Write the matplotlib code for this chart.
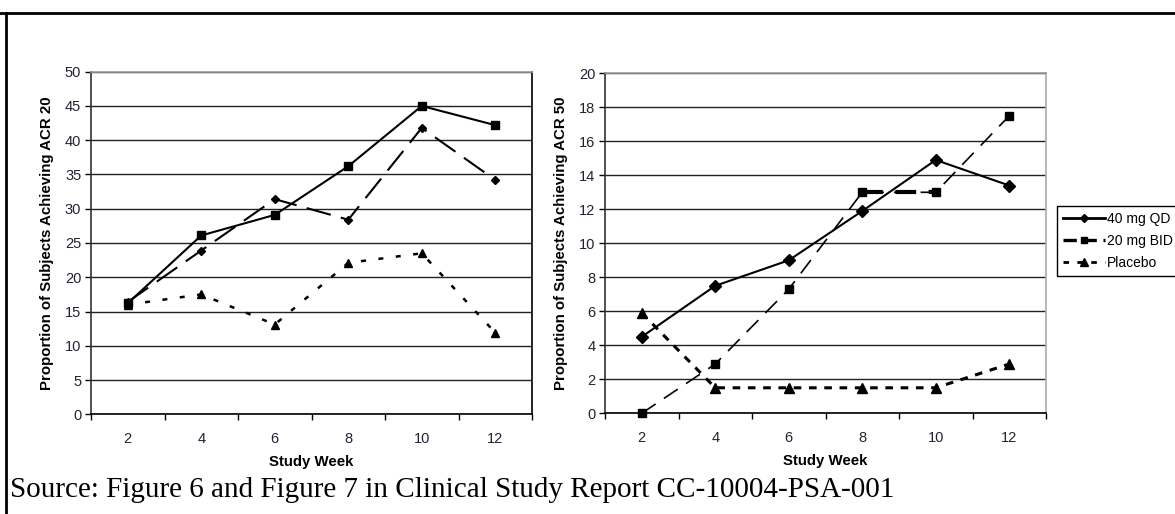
import matplotlib
matplotlib.use("Agg")
import matplotlib.pyplot as plt
from matplotlib.lines import Line2D

weeks = ["2", "4", "6", "8", "10", "12"]

# ACR 20 (left panel)
acr20_solid = [16.2, 26.1, 29.1, 36.2, 45.0, 42.2]
acr20_dashed = [16.4, 23.9, 31.4, 28.4, 41.8, 34.2]
acr20_placebo = [16.0, 17.5, 13.1, 22.1, 23.5, 11.9]

# ACR 50 (right panel)
acr50_qd = [4.5, 7.5, 9.0, 11.9, 14.9, 13.4]
acr50_bid = [0.0, 2.9, 7.3, 13.0, 13.0, 17.5]
acr50_placebo = [5.9, 1.5, 1.5, 1.5, 1.5, 2.9]

series_names = ["40 mg QD", "20 mg BID", "Placebo"]

plt.rcParams['font.family'] = ['Liberation Sans', 'DejaVu Sans']

W, H = 1175, 514
fig = plt.figure(figsize=(W / 100, H / 100), dpi=100)

def setup_axes(ax, ymax, ystep, ylabel, right_color):
    pos = list(range(1, len(weeks) + 1))
    ax.set_xlim(0.5, len(weeks) + 0.5)
    ax.set_ylim(0, ymax)
    ax.set_xticks(pos)
    ax.set_xticklabels(weeks)
    ax.set_xticks([p - 0.5 for p in pos] + [len(weeks) + 0.5], minor=True)
    ax.tick_params(axis='x', which='major', length=0, pad=13, labelsize=10.5, labelcolor='#222233')
    ax.tick_params(axis='x', which='minor', length=4, width=1, direction='out')
    ax.set_yticks(range(0, ymax + 1, ystep))
    ax.tick_params(axis='y', length=4, width=1, direction='out', labelsize=10.5,
                   labelcolor='#222233', pad=3)
    ax.yaxis.grid(True, color='#222222', lw=1)
    ax.set_axisbelow(True)
    ax.spines['left'].set_color('#333333')
    ax.spines['bottom'].set_color('black')
    ax.spines['top'].set_color('#999999')
    ax.spines['right'].set_color(right_color)
    for s in ax.spines.values():
        s.set_linewidth(1.2)
    ax.set_ylabel(ylabel, fontsize=10.8, fontweight='bold', labelpad=8)
    ax.set_xlabel("Study Week", fontsize=10.8, fontweight='bold', labelpad=6)
    return pos

# left panel
ax1 = fig.add_axes([91 / W, 1 - 414.3 / H, 441 / W, (414.3 - 71.7) / H])
x = setup_axes(ax1, 50, 5, "Proportion of Subjects Achieving ACR 20", 'black')
ax1.plot(x, acr20_solid, color='black', lw=1.5, marker='s', ms=5.5, clip_on=False)
ax1.plot(x, acr20_dashed, color='black', lw=1.5, dashes=(12, 5), marker='D', ms=4.5, clip_on=False)
ax1.plot(x, acr20_placebo, color='black', lw=1.8, dashes=(2, 5), marker='^', ms=6, clip_on=False)

# right panel
ax2 = fig.add_axes([605 / W, 1 - 413.3 / H, 441 / W, (413.3 - 73.3) / H])
x = setup_axes(ax2, 20, 2, "Proportion of Subjects Achieving ACR 50", '#aaaaaa')
ax2.plot(x, acr50_qd, color='black', lw=1.5, marker='D', ms=6, clip_on=False)
ax2.plot(x, acr50_bid, color='black', lw=1.2, dashes=(10, 6), marker='s', ms=5.5, clip_on=False)
ax2.plot(x[3:5], acr50_bid[3:5], color='black', lw=3, dashes=(5, 3), solid_capstyle='butt')
ax2.plot(x, acr50_placebo, color='black', lw=2.2, dashes=(2.5, 2.5), marker='^', ms=7, clip_on=False)

h1 = Line2D([], [], color='black', lw=2, marker='D', ms=4.5)
h2 = Line2D([], [], color='black', lw=2.4, dashes=(4, 2), marker='s', ms=4.5)
h3 = Line2D([], [], color='black', lw=2, dashes=(2, 3), marker='^', ms=5.5)
leg = fig.legend([h1, h2, h3], series_names, loc='upper left',
                 bbox_to_anchor=(1057 / W, 1 - 206 / H), fontsize=10,
                 frameon=True, fancybox=False, edgecolor='black', framealpha=1,
                 handlelength=3.0, handletextpad=0.15, borderpad=0.45,
                 labelspacing=0.55, borderaxespad=0)
leg.get_frame().set_linewidth(1)

# page frame
fig.add_artist(Line2D([0, 1], [1 - 12.7 / H, 1 - 12.7 / H], color='black', lw=2))
fig.add_artist(Line2D([6 / W, 6 / W], [0, 1 - 12.7 / H], color='black', lw=2))

fig.text(10 / W, 1 - 497 / H, "Source: Figure 6 and Figure 7 in Clinical Study Report CC-10004-PSA-001",
         fontsize=21, family='Liberation Serif', va='baseline', ha='left')

fig.savefig("out.png", dpi=100)
